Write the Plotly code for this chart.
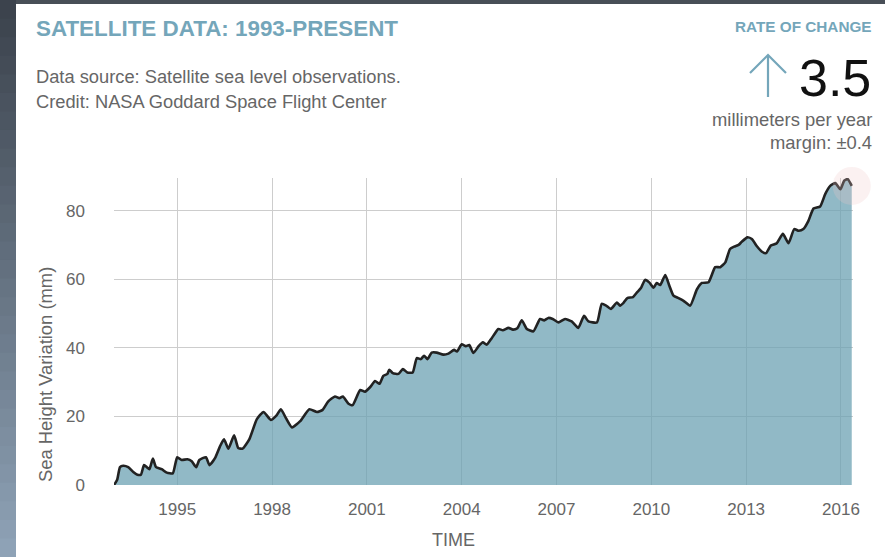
import plotly.graph_objects as go

# ---- data ----
years = [1993.00, 1993.10, 1993.19, 1993.29, 1993.45, 1993.61, 1993.74, 1993.85, 1993.95, 1994.04,
         1994.12, 1994.23, 1994.33, 1994.51, 1994.67, 1994.86, 1995.00, 1995.14, 1995.32, 1995.46,
         1995.60, 1995.70, 1995.91, 1996.02, 1996.20, 1996.35, 1996.48, 1996.62, 1996.80, 1996.93,
         1997.07, 1997.28, 1997.52, 1997.73, 1997.96, 1998.15, 1998.28, 1998.44, 1998.63, 1998.89,
         1999.18, 1999.42, 1999.60, 1999.78, 1999.99, 2000.13, 2000.24, 2000.42, 2000.55, 2000.79,
         2000.94, 2001.10, 2001.26, 2001.40, 2001.52, 2001.65, 2001.71, 2001.82, 2002.00, 2002.14,
         2002.28, 2002.45, 2002.58, 2002.71, 2002.81, 2002.92, 2003.05, 2003.21, 2003.42, 2003.58,
         2003.76, 2003.85, 2004.00, 2004.13, 2004.24, 2004.37, 2004.53, 2004.67, 2004.79, 2004.95,
         2005.16, 2005.30, 2005.48, 2005.62, 2005.76, 2005.90, 2006.06, 2006.27, 2006.48, 2006.61,
         2006.74, 2006.88, 2007.06, 2007.27, 2007.48, 2007.69, 2007.87, 2008.01, 2008.28, 2008.43,
         2008.57, 2008.72, 2008.91, 2009.01, 2009.12, 2009.24, 2009.42, 2009.54, 2009.67, 2009.80,
         2009.94, 2010.07, 2010.17, 2010.28, 2010.44, 2010.57, 2010.70, 2010.86, 2011.02, 2011.23,
         2011.44, 2011.60, 2011.81, 2012.02, 2012.18, 2012.34, 2012.49, 2012.62, 2012.76, 2012.86,
         2013.04, 2013.18, 2013.34, 2013.50, 2013.63, 2013.78, 2013.97, 2014.16, 2014.34, 2014.52,
         2014.66, 2014.81, 2014.97, 2015.13, 2015.34, 2015.50, 2015.66, 2015.82, 2015.98, 2016.10,
         2016.21, 2016.34]
sea_level_mm = [0.0, 1.5, 5.2, 5.6, 5.2, 3.8, 3.0, 3.0, 5.8, 5.2,
                4.6, 7.7, 5.2, 4.6, 3.6, 3.4, 8.1, 7.3, 7.5, 6.9,
                5.2, 7.3, 8.1, 5.8, 7.9, 11.2, 13.3, 10.6, 14.5, 10.8,
                10.6, 13.3, 19.2, 21.3, 19.0, 20.4, 22.1, 19.5, 16.8, 18.6,
                22.1, 21.3, 21.9, 24.4, 25.8, 25.3, 25.8, 23.7, 23.3, 27.7,
                27.2, 28.5, 30.3, 29.5, 31.8, 32.4, 33.6, 32.6, 32.4, 33.8,
                32.8, 32.8, 37.0, 36.7, 37.7, 36.7, 38.6, 38.6, 38.0, 38.3,
                39.4, 38.9, 41.0, 40.5, 40.8, 38.5, 40.4, 41.6, 40.9, 42.8,
                45.5, 45.1, 45.8, 45.3, 45.7, 48.0, 45.5, 44.8, 48.4, 48.0,
                48.7, 48.4, 47.4, 48.4, 47.7, 45.8, 49.3, 47.7, 47.4, 52.8,
                52.3, 51.3, 53.2, 52.3, 53.1, 54.5, 54.8, 56.1, 57.4, 59.8,
                59.0, 57.5, 58.9, 58.3, 61.2, 58.1, 55.2, 54.5, 53.7, 52.3,
                57.0, 58.9, 59.1, 63.5, 63.5, 64.9, 68.8, 69.5, 70.0, 70.9,
                72.2, 71.7, 69.6, 68.0, 67.6, 69.8, 70.5, 73.2, 70.5, 74.6,
                74.1, 74.6, 77.0, 80.6, 81.2, 84.8, 87.2, 88.0, 86.2, 88.7,
                89.2, 87.2]
x_ticks = [1995, 1998, 2001, 2004, 2007, 2010, 2013, 2016]
y_ticks = [0, 20, 40, 60, 80]
rate_value = "3.5"
rate_margin = "±0.4"

# ---- layout geometry (pixels) ----
W, H = 885, 557
L, R, T, B = 114, 853, 178, 485


def px(x):
    return (x - L) / (R - L)


def py(y):
    return (B - y) / (B - T)


FONT = "Liberation Sans, Arial, sans-serif"
ACCENT = "rgb(116,166,186)"
GREY = "rgb(102,102,102)"

fig = go.Figure()
fig.add_trace(go.Scatter(
    x=years, y=sea_level_mm, mode="lines",
    line=dict(color="#222222", width=2.6, shape="spline", smoothing=0.5),
    fill="tozeroy", fillcolor="rgba(104,159,177,0.73)",
    hoverinfo="skip", showlegend=False,
))
fig.add_trace(go.Scatter(
    x=[years[-1]], y=[sea_level_mm[-1]], mode="markers",
    marker=dict(size=38, color="rgba(240,200,200,0.25)", line=dict(width=0)),
    cliponaxis=False, hoverinfo="skip", showlegend=False,
))

shapes = []
# dark page border with gradient on the left
shapes.append(dict(type="rect", xref="paper", yref="paper", x0=px(0), x1=px(W), y0=py(0), y1=py(4),
                   fillcolor="rgb(72,79,87)", line=dict(width=0), layer="below"))
n = 30
for i in range(n):
    t = i / (n - 1)
    r = int(60 + t * (142 - 60))
    g = int(67 + t * (162 - 67))
    b = int(77 + t * (182 - 77))
    shapes.append(dict(type="rect", xref="paper", yref="paper", x0=px(0), x1=px(16),
                       y0=py(i * H / n), y1=py((i + 1) * H / n + 1),
                       fillcolor=f"rgb({r},{g},{b})", line=dict(width=0), layer="below"))
# up arrow
shapes.append(dict(type="line", xref="paper", yref="paper", x0=px(768), x1=px(768), y0=py(97), y1=py(56),
                   line=dict(color=ACCENT, width=2.2)))
shapes.append(dict(type="path", xref="paper", yref="paper",
                   path=f"M {px(750)},{py(73)} L {px(768)},{py(55)} L {px(786)},{py(73)}",
                   line=dict(color=ACCENT, width=2.2)))

annotations = [
    dict(text="<b>SATELLITE DATA: 1993-PRESENT</b>", x=px(34), y=py(28), xanchor="left", yanchor="middle",
         font=dict(size=22.4, color=ACCENT, family=FONT)),
    dict(text="Data source: Satellite sea level observations.", x=px(34), y=py(76), xanchor="left",
         yanchor="middle", font=dict(size=18.3, color=GREY, family=FONT)),
    dict(text="Credit: NASA Goddard Space Flight Center", x=px(34), y=py(101), xanchor="left",
         yanchor="middle", font=dict(size=18.3, color=GREY, family=FONT)),
    dict(text="<b>RATE OF CHANGE</b>", x=px(874), y=py(26), xanchor="right", yanchor="middle",
         font=dict(size=15.3, color=ACCENT, family=FONT)),
    dict(text=rate_value, x=px(873), y=py(78), xanchor="right", yanchor="middle",
         font=dict(size=52, color="#111111", family=FONT)),
    dict(text="millimeters per year", x=px(874), y=py(120), xanchor="right", yanchor="middle",
         font=dict(size=18.4, color=GREY, family=FONT)),
    dict(text="margin: " + rate_margin, x=px(874), y=py(142), xanchor="right", yanchor="middle",
         font=dict(size=18.4, color=GREY, family=FONT)),
    dict(text="Sea Height Variation (mm)", x=px(45), y=py(375), xanchor="center", yanchor="middle",
         textangle=-90, font=dict(size=18.4, color=GREY, family=FONT)),
    dict(text="TIME", x=px(453), y=py(540), xanchor="center", yanchor="middle",
         font=dict(size=18, color=GREY, family=FONT)),
]
for a in annotations:
    a.update(xref="paper", yref="paper", showarrow=False)

fig.update_layout(
    width=W, height=H, autosize=False,
    margin=dict(l=L, r=W - R, t=T, b=H - B, pad=0),
    paper_bgcolor="white", plot_bgcolor="white",
    shapes=shapes, annotations=annotations,
    font=dict(family=FONT, color=GREY),
    xaxis=dict(range=[1993.0, 2016.38], tickvals=x_ticks, ticktext=[str(v) for v in x_ticks],
               showgrid=True, gridcolor="rgb(205,205,205)", gridwidth=1, zeroline=False,
               showline=False, ticks="", ticklabelstandoff=12,
               tickfont=dict(size=17, color=GREY, family=FONT), fixedrange=True),
    yaxis=dict(range=[0, 89.5], tickvals=y_ticks, ticktext=[str(v) for v in y_ticks],
               showgrid=True, gridcolor="rgb(205,205,205)", gridwidth=1, zeroline=False,
               showline=False, ticks="", ticklabelstandoff=28,
               tickfont=dict(size=17, color=GREY, family=FONT), fixedrange=True),
)

fig.write_html(
    "out.html",
    config={"displayModeBar": False},
    post_script="document.body.style.margin='0px';document.body.style.overflow='hidden';",
)
